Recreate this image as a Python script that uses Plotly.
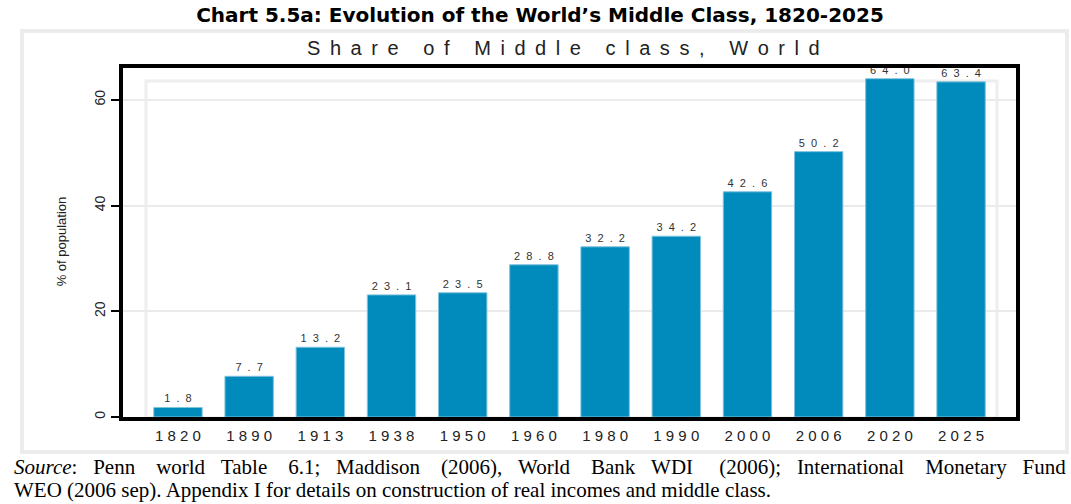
import plotly.graph_objects as go

# data
years = ["1820", "1890", "1913", "1938", "1950", "1960", "1980", "1990", "2000", "2006", "2020", "2025"]
share = [1.8, 7.7, 13.2, 23.1, 23.5, 28.8, 32.2, 34.2, 42.6, 50.2, 64.0, 63.4]
y_ticks = [0, 20, 40, 60]

W, H = 1071, 504
L, R, T, B = 121, 1018, 66, 417  # plot area in pixels


def spaced(s, sep=" "):
    # imitate the wide letter spacing of the original
    return sep.join(s)


def px(x):
    return (x - L) / (R - L)


def py(y):
    return (B - y) / (B - T)


fig = go.Figure()

fig.add_trace(go.Bar(
    x=list(range(len(years))),
    y=share,
    marker=dict(color="#008bbc", line=dict(color="#7fc4de", width=1)),
    width=0.68,
    text=[spaced(f"{v:.1f}", " \u00a0") for v in share],
    textposition="outside",
    textfont=dict(size=11, color="#333333", family="Arial"),
    cliponaxis=False,
    hovertemplate="%{customdata}: %{y:.1f}%<extra></extra>",
    customdata=years,
))

shapes = [
    # outer light gray box
    dict(type="rect", xref="paper", yref="paper", x0=px(22), x1=px(1067), y0=py(452), y1=py(31),
         line=dict(color="#ececec", width=4), layer="below"),
    # inner gray box
    dict(type="rect", xref="paper", yref="paper", x0=px(146), x1=px(997), y0=py(418), y1=py(81),
         line=dict(color="#eeeeee", width=3), layer="below"),
    # black plot frame
    dict(type="rect", xref="paper", yref="paper", x0=0, x1=1, y0=py(419), y1=1,
         line=dict(color="black", width=4), layer="above"),
]

subtitle = " \u2009".join("Share of Middle class, World")

# source note: first line is justified in the original, so widen its word gaps
words1 = ["<i>Source</i>:", "Penn", "world", "Table", "6.1;", "Maddison", "(2006),", "World",
          "Bank", "WDI\u00a0", "(2006);", "International", "Monetary", "Fund"]
src1 = words1[0]
for i, w in enumerate(words1[1:]):
    src1 += (" \u00a0\u00a0\u00a0" if i % 2 else " \u00a0\u00a0") + w
src2 = "WEO (2006 sep). Appendix I for details on construction of real incomes and middle class."
src_font = dict(size=21, family="Liberation Serif", color="black")

fig.update_layout(
    width=W, height=H,
    margin=dict(l=L, r=W - R, t=T, b=H - B),
    paper_bgcolor="white",
    plot_bgcolor="white",
    font=dict(family="Arial", color="black"),
    showlegend=False,
    shapes=shapes,
    title=dict(text="<b>Chart 5.5a: Evolution of the World’s Middle Class, 1820-2025</b>",
               x=540 / W, xanchor="center", y=1 - 15 / H, yanchor="middle",
               font=dict(size=20, family="DejaVu Sans", color="black")),
    annotations=[
        dict(text=subtitle,
             xref="paper", yref="paper", x=px(563), y=py(48), xanchor="center", yanchor="middle",
             showarrow=False, font=dict(size=20, family="Arial", color="#222222")),
        dict(text=src1, xref="paper", yref="paper", x=px(12), y=py(467),
             xanchor="left", yanchor="middle", showarrow=False, font=src_font),
        dict(text=src2, xref="paper", yref="paper", x=px(12), y=py(490),
             xanchor="left", yanchor="middle", showarrow=False, font=src_font),
    ],
)

fig.update_xaxes(
    range=[-0.8, 11.8],
    tickmode="array", tickvals=list(range(len(years))), ticktext=[spaced(y) for y in years],
    tickfont=dict(size=15, family="Arial", color="#222222"),
    ticklabelstandoff=8,
    ticks="", showgrid=False, showline=False, zeroline=False,
)

fig.update_yaxes(
    range=[0, 66.4],
    tickmode="array", tickvals=y_ticks, ticktext=[str(v) for v in y_ticks],
    tickangle=-90,
    tickfont=dict(size=14, family="Arial", color="#222222"),
    ticks="outside", ticklen=9, tickwidth=2, tickcolor="black",
    showgrid=True, gridcolor="#ebebeb", gridwidth=2,
    zeroline=False, showline=False,
    title=dict(text="% of population", font=dict(size=13, family="Arial", color="#222222"), standoff=22),
)

# drop the page's default body margin so the figure sits at the window's corner
fig.write_html("out.html", config={"displayModeBar": False},
               post_script="document.body.style.margin = '0';")
